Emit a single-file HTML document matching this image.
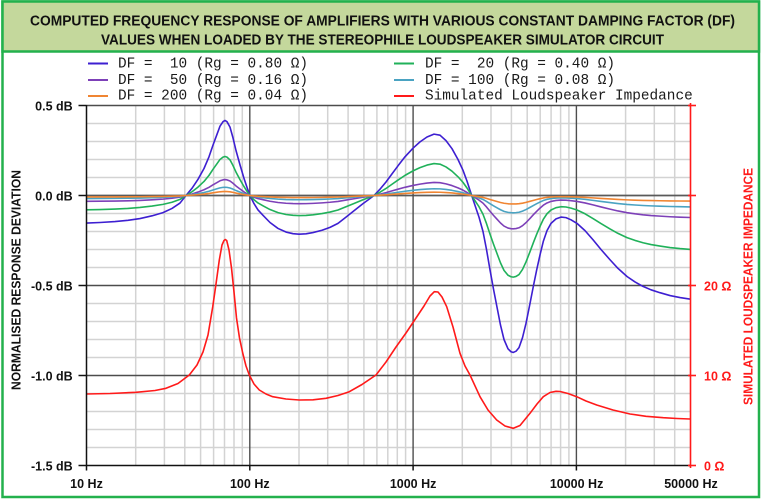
<!DOCTYPE html>
<html><head><meta charset="utf-8"><style>
html,body{margin:0;padding:0;background:#fff;}
svg{display:block;}
text{font-family:"Liberation Sans",sans-serif;}
.mono{font-family:"Liberation Mono",monospace;font-size:14.4px;fill:#1a1a1a;white-space:pre;}
.ax{font-weight:bold;font-size:12.5px;fill:#111;}
.rax{font-weight:bold;font-size:12.5px;fill:#ff1a1a;}
</style></head><body>
<svg width="765" height="502" viewBox="0 0 765 502" xmlns="http://www.w3.org/2000/svg">
<rect x="0" y="0" width="765" height="502" fill="#fff"/>
<rect x="2.5" y="1.5" width="756.5" height="495.5" fill="#fff" stroke="#23b14d" stroke-width="2.5"/>
<rect x="2.5" y="1.5" width="756.5" height="50" fill="#c4d89c" stroke="#23b14d" stroke-width="2.5"/>
<text x="382.5" y="25.5" text-anchor="middle" font-weight="bold" font-size="14.5" fill="#111" textLength="705" lengthAdjust="spacingAndGlyphs">COMPUTED FREQUENCY RESPONSE OF AMPLIFIERS WITH VARIOUS CONSTANT DAMPING FACTOR (DF)</text>
<text x="382.5" y="44.5" text-anchor="middle" font-weight="bold" font-size="14.5" fill="#111" textLength="563" lengthAdjust="spacingAndGlyphs">VALUES WHEN LOADED BY THE STEREOPHILE LOUDSPEAKER SIMULATOR CIRCUIT</text>

<!-- legend -->
<g stroke-width="2">
<line x1="88" y1="63.5" x2="108" y2="63.5" stroke="#3d1fd1"/>
<line x1="88" y1="80" x2="108" y2="80" stroke="#7d40b8"/>
<line x1="88" y1="96" x2="108" y2="96" stroke="#f08532"/>
<line x1="394" y1="63.5" x2="414" y2="63.5" stroke="#20b15a"/>
<line x1="394" y1="80" x2="414" y2="80" stroke="#4aa3c2"/>
<line x1="394" y1="96" x2="414" y2="96" stroke="#ff1a1a"/>
</g>
<text class="mono" x="118" y="67.7" xml:space="preserve">DF =  10 (Rg = 0.80 Ω)</text>
<text class="mono" x="118" y="84" xml:space="preserve">DF =  50 (Rg = 0.16 Ω)</text>
<text class="mono" x="118" y="99.7" xml:space="preserve">DF = 200 (Rg = 0.04 Ω)</text>
<text class="mono" x="425" y="67.7" xml:space="preserve">DF =  20 (Rg = 0.40 Ω)</text>
<text class="mono" x="425" y="84" xml:space="preserve">DF = 100 (Rg = 0.08 Ω)</text>
<text class="mono" x="425" y="99.7" xml:space="preserve">Simulated Loudspeaker Impedance</text>

<!-- minor grid -->
<g stroke="#d3d3d3" stroke-width="1.5">
<line x1="86.5" x2="690.5" y1="123.5" y2="123.5"/><line x1="86.5" x2="690.5" y1="141.5" y2="141.5"/>
<line x1="86.5" x2="690.5" y1="159.5" y2="159.5"/><line x1="86.5" x2="690.5" y1="177.5" y2="177.5"/>
<line x1="86.5" x2="690.5" y1="213.5" y2="213.5"/><line x1="86.5" x2="690.5" y1="231.5" y2="231.5"/>
<line x1="86.5" x2="690.5" y1="249.5" y2="249.5"/><line x1="86.5" x2="690.5" y1="267.5" y2="267.5"/>
<line x1="86.5" x2="690.5" y1="303.5" y2="303.5"/><line x1="86.5" x2="690.5" y1="321.5" y2="321.5"/>
<line x1="86.5" x2="690.5" y1="339.5" y2="339.5"/><line x1="86.5" x2="690.5" y1="357.5" y2="357.5"/>
<line x1="86.5" x2="690.5" y1="393.5" y2="393.5"/><line x1="86.5" x2="690.5" y1="411.5" y2="411.5"/>
<line x1="86.5" x2="690.5" y1="429.5" y2="429.5"/><line x1="86.5" x2="690.5" y1="447.5" y2="447.5"/>
<line y1="105.5" y2="465.5" x1="135.7" x2="135.7"/><line y1="105.5" y2="465.5" x1="164.4" x2="164.4"/>
<line y1="105.5" y2="465.5" x1="184.8" x2="184.8"/><line y1="105.5" y2="465.5" x1="200.6" x2="200.6"/>
<line y1="105.5" y2="465.5" x1="213.6" x2="213.6"/><line y1="105.5" y2="465.5" x1="224.5" x2="224.5"/>
<line y1="105.5" y2="465.5" x1="234" x2="234"/><line y1="105.5" y2="465.5" x1="242.3" x2="242.3"/>
<line y1="105.5" y2="465.5" x1="299" x2="299"/><line y1="105.5" y2="465.5" x1="327.7" x2="327.7"/>
<line y1="105.5" y2="465.5" x1="348.1" x2="348.1"/><line y1="105.5" y2="465.5" x1="363.9" x2="363.9"/>
<line y1="105.5" y2="465.5" x1="376.9" x2="376.9"/><line y1="105.5" y2="465.5" x1="387.8" x2="387.8"/>
<line y1="105.5" y2="465.5" x1="397.3" x2="397.3"/><line y1="105.5" y2="465.5" x1="405.6" x2="405.6"/>
<line y1="105.5" y2="465.5" x1="462.3" x2="462.3"/><line y1="105.5" y2="465.5" x1="491" x2="491"/>
<line y1="105.5" y2="465.5" x1="511.4" x2="511.4"/><line y1="105.5" y2="465.5" x1="527.2" x2="527.2"/>
<line y1="105.5" y2="465.5" x1="540.2" x2="540.2"/><line y1="105.5" y2="465.5" x1="551.1" x2="551.1"/>
<line y1="105.5" y2="465.5" x1="560.6" x2="560.6"/><line y1="105.5" y2="465.5" x1="568.9" x2="568.9"/>
<line y1="105.5" y2="465.5" x1="625.6" x2="625.6"/><line y1="105.5" y2="465.5" x1="654.3" x2="654.3"/>
<line y1="105.5" y2="465.5" x1="674.7" x2="674.7"/>
</g>
<!-- major grid -->
<g stroke="#4d4d4d" stroke-width="1.4">
<line x1="86.5" x2="690.5" y1="105.5" y2="105.5"/>
<line x1="86.5" x2="690.5" y1="195.5" y2="195.5" stroke="#5a5a5a" stroke-width="1.8"/>
<line x1="86.5" x2="690.5" y1="285.5" y2="285.5"/>
<line x1="86.5" x2="690.5" y1="375.5" y2="375.5"/>
<line y1="105.5" y2="465.5" x1="249.8" x2="249.8"/>
<line y1="105.5" y2="465.5" x1="413.1" x2="413.1"/>
<line y1="105.5" y2="465.5" x1="576.4" x2="576.4"/>
</g>

<!-- DF curves (x in px, y in dB) -->
<polyline fill="none" stroke="#3d1fd1" stroke-width="1.6" stroke-linejoin="round" vector-effect="non-scaling-stroke" transform="translate(0,195.5) scale(1,-180)" points="86.5,-0.153 100,-0.150 115,-0.145 128,-0.138 140,-0.128 152,-0.113 163,-0.095 172,-0.072 180,-0.042 186,0 192,0.04 198,0.09 204,0.15 209,0.215 213,0.28 217,0.34 220,0.385 223,0.41 225,0.417 227,0.41 230,0.38 233,0.32 236,0.25 240,0.17 244,0.095 247,0.045 250,0 254,-0.045 258,-0.08 263,-0.11 270,-0.15 278,-0.183 286,-0.203 293,-0.212 299,-0.215 306,-0.213 313,-0.206 322,-0.193 330,-0.177 338,-0.155 346,-0.12 354,-0.085 363,-0.045 368,-0.025 374,0 380,0.035 386,0.075 392,0.12 398,0.165 405,0.215 413,0.263 420,0.298 427,0.325 434,0.341 440,0.335 446,0.305 452,0.26 458,0.2 463,0.14 467,0.08 471.7,0 475,-0.055 479,-0.12 483,-0.2 486.5,-0.3 490,-0.413 493.5,-0.52 497,-0.62 500.5,-0.72 504,-0.8 508,-0.852 511,-0.868 513.3,-0.872 516,-0.865 519,-0.845 522.5,-0.79 526,-0.71 530,-0.6 533.5,-0.5 536.7,-0.413 540,-0.33 543.3,-0.255 547,-0.195 551,-0.155 556,-0.13 561,-0.12 566,-0.123 571,-0.135 577,-0.155 585,-0.195 593,-0.246 601,-0.3 610,-0.357 618,-0.405 627,-0.45 635,-0.48 643,-0.505 651,-0.524 660,-0.54 670,-0.556 680,-0.567 690.5,-0.576"/>
<polyline fill="none" stroke="#20b15a" stroke-width="1.6" stroke-linejoin="round" vector-effect="non-scaling-stroke" transform="translate(0,195.5) scale(1,-93.6)" points="86.5,-0.153 100,-0.150 115,-0.145 128,-0.138 140,-0.128 152,-0.113 163,-0.095 172,-0.072 180,-0.042 186,0 192,0.04 198,0.09 204,0.15 209,0.215 213,0.28 217,0.34 220,0.385 223,0.41 225,0.417 227,0.41 230,0.38 233,0.32 236,0.25 240,0.17 244,0.095 247,0.045 250,0 254,-0.045 258,-0.08 263,-0.11 270,-0.15 278,-0.183 286,-0.203 293,-0.212 299,-0.215 306,-0.213 313,-0.206 322,-0.193 330,-0.177 338,-0.155 346,-0.12 354,-0.085 363,-0.045 368,-0.025 374,0 380,0.035 386,0.075 392,0.12 398,0.165 405,0.215 413,0.263 420,0.298 427,0.325 434,0.341 440,0.335 446,0.305 452,0.26 458,0.2 463,0.14 467,0.08 471.7,0 475,-0.055 479,-0.12 483,-0.2 486.5,-0.3 490,-0.413 493.5,-0.52 497,-0.62 500.5,-0.72 504,-0.8 508,-0.852 511,-0.868 513.3,-0.872 516,-0.865 519,-0.845 522.5,-0.79 526,-0.71 530,-0.6 533.5,-0.5 536.7,-0.413 540,-0.33 543.3,-0.255 547,-0.195 551,-0.155 556,-0.13 561,-0.12 566,-0.123 571,-0.135 577,-0.155 585,-0.195 593,-0.246 601,-0.3 610,-0.357 618,-0.405 627,-0.45 635,-0.48 643,-0.505 651,-0.524 660,-0.54 670,-0.556 680,-0.567 690.5,-0.576"/>
<polyline fill="none" stroke="#7d40b8" stroke-width="1.6" stroke-linejoin="round" vector-effect="non-scaling-stroke" transform="translate(0,195.5) scale(1,-38.2)" points="86.5,-0.153 100,-0.150 115,-0.145 128,-0.138 140,-0.128 152,-0.113 163,-0.095 172,-0.072 180,-0.042 186,0 192,0.04 198,0.09 204,0.15 209,0.215 213,0.28 217,0.34 220,0.385 223,0.41 225,0.417 227,0.41 230,0.38 233,0.32 236,0.25 240,0.17 244,0.095 247,0.045 250,0 254,-0.045 258,-0.08 263,-0.11 270,-0.15 278,-0.183 286,-0.203 293,-0.212 299,-0.215 306,-0.213 313,-0.206 322,-0.193 330,-0.177 338,-0.155 346,-0.12 354,-0.085 363,-0.045 368,-0.025 374,0 380,0.035 386,0.075 392,0.12 398,0.165 405,0.215 413,0.263 420,0.298 427,0.325 434,0.341 440,0.335 446,0.305 452,0.26 458,0.2 463,0.14 467,0.08 471.7,0 475,-0.055 479,-0.12 483,-0.2 486.5,-0.3 490,-0.413 493.5,-0.52 497,-0.62 500.5,-0.72 504,-0.8 508,-0.852 511,-0.868 513.3,-0.872 516,-0.865 519,-0.845 522.5,-0.79 526,-0.71 530,-0.6 533.5,-0.5 536.7,-0.413 540,-0.33 543.3,-0.255 547,-0.195 551,-0.155 556,-0.13 561,-0.12 566,-0.123 571,-0.135 577,-0.155 585,-0.195 593,-0.246 601,-0.3 610,-0.357 618,-0.405 627,-0.45 635,-0.48 643,-0.505 651,-0.524 660,-0.54 670,-0.556 680,-0.567 690.5,-0.576"/>
<polyline fill="none" stroke="#4aa3c2" stroke-width="1.6" stroke-linejoin="round" vector-effect="non-scaling-stroke" transform="translate(0,195.5) scale(1,-19.8)" points="86.5,-0.153 100,-0.150 115,-0.145 128,-0.138 140,-0.128 152,-0.113 163,-0.095 172,-0.072 180,-0.042 186,0 192,0.04 198,0.09 204,0.15 209,0.215 213,0.28 217,0.34 220,0.385 223,0.41 225,0.417 227,0.41 230,0.38 233,0.32 236,0.25 240,0.17 244,0.095 247,0.045 250,0 254,-0.045 258,-0.08 263,-0.11 270,-0.15 278,-0.183 286,-0.203 293,-0.212 299,-0.215 306,-0.213 313,-0.206 322,-0.193 330,-0.177 338,-0.155 346,-0.12 354,-0.085 363,-0.045 368,-0.025 374,0 380,0.035 386,0.075 392,0.12 398,0.165 405,0.215 413,0.263 420,0.298 427,0.325 434,0.341 440,0.335 446,0.305 452,0.26 458,0.2 463,0.14 467,0.08 471.7,0 475,-0.055 479,-0.12 483,-0.2 486.5,-0.3 490,-0.413 493.5,-0.52 497,-0.62 500.5,-0.72 504,-0.8 508,-0.852 511,-0.868 513.3,-0.872 516,-0.865 519,-0.845 522.5,-0.79 526,-0.71 530,-0.6 533.5,-0.5 536.7,-0.413 540,-0.33 543.3,-0.255 547,-0.195 551,-0.155 556,-0.13 561,-0.12 566,-0.123 571,-0.135 577,-0.155 585,-0.195 593,-0.246 601,-0.3 610,-0.357 618,-0.405 627,-0.45 635,-0.48 643,-0.505 651,-0.524 660,-0.54 670,-0.556 680,-0.567 690.5,-0.576"/>
<polyline fill="none" stroke="#f08532" stroke-width="1.6" stroke-linejoin="round" vector-effect="non-scaling-stroke" transform="translate(0,195.5) scale(1,-9.7)" points="86.5,-0.153 100,-0.150 115,-0.145 128,-0.138 140,-0.128 152,-0.113 163,-0.095 172,-0.072 180,-0.042 186,0 192,0.04 198,0.09 204,0.15 209,0.215 213,0.28 217,0.34 220,0.385 223,0.41 225,0.417 227,0.41 230,0.38 233,0.32 236,0.25 240,0.17 244,0.095 247,0.045 250,0 254,-0.045 258,-0.08 263,-0.11 270,-0.15 278,-0.183 286,-0.203 293,-0.212 299,-0.215 306,-0.213 313,-0.206 322,-0.193 330,-0.177 338,-0.155 346,-0.12 354,-0.085 363,-0.045 368,-0.025 374,0 380,0.035 386,0.075 392,0.12 398,0.165 405,0.215 413,0.263 420,0.298 427,0.325 434,0.341 440,0.335 446,0.305 452,0.26 458,0.2 463,0.14 467,0.08 471.7,0 475,-0.055 479,-0.12 483,-0.2 486.5,-0.3 490,-0.413 493.5,-0.52 497,-0.62 500.5,-0.72 504,-0.8 508,-0.852 511,-0.868 513.3,-0.872 516,-0.865 519,-0.845 522.5,-0.79 526,-0.71 530,-0.6 533.5,-0.5 536.7,-0.413 540,-0.33 543.3,-0.255 547,-0.195 551,-0.155 556,-0.13 561,-0.12 566,-0.123 571,-0.135 577,-0.155 585,-0.195 593,-0.246 601,-0.3 610,-0.357 618,-0.405 627,-0.45 635,-0.48 643,-0.505 651,-0.524 660,-0.54 670,-0.556 680,-0.567 690.5,-0.576"/>

<!-- impedance -->
<polyline fill="none" stroke="#ff1a1a" stroke-width="1.6" stroke-linejoin="round" points="86.5,394 110,393.5 136,392.3 155,390.5 166,388.3 178,383.5 189.3,375 197,365 203,352 208,335 212.7,307 216,284 219.3,260 222,245 224,240.5 225.3,239.5 226.7,240.5 229,250 231.5,268 234,292 236.5,318 239.5,338 242.7,353 246,366 249.3,375 254,384 259.3,390 266,394 272.7,396.7 286,399 299.3,400 313,399.8 326,398.3 338,395.5 349.3,391.7 362,384.5 376,375 386,362 396,347 406,333 416,318 424,306 430,296 434.3,291.7 438,292 442,297 446.7,306.7 453,327 460,353.3 465,366 470,375 480,396.7 488,410 496.7,420 505,426 513.3,428.3 520,425.5 530,413.3 537,404 543.3,396.7 550,392.5 556,391.3 560,391.5 568,393.5 576.7,396.7 586,401 596.7,405 613,410 630,414 646,416.3 663.3,417.7 677,418.5 690,419"/>

<!-- axes -->
<g stroke="#111" stroke-width="1.5">
<line x1="86.5" y1="105" x2="86.5" y2="470.5"/>
<line x1="78.5" y1="465.5" x2="690.5" y2="465.5"/>
<line x1="78.5" y1="105.5" x2="86.5" y2="105.5"/>
<line x1="78.5" y1="195.5" x2="86.5" y2="195.5"/>
<line x1="78.5" y1="285.5" x2="86.5" y2="285.5"/>
<line x1="78.5" y1="375.5" x2="86.5" y2="375.5"/>
<line x1="249.8" y1="465.5" x2="249.8" y2="470.5"/>
<line x1="413.1" y1="465.5" x2="413.1" y2="470.5"/>
<line x1="576.4" y1="465.5" x2="576.4" y2="470.5"/>
</g>
<g stroke="#ff1a1a" stroke-width="1.6">
<line x1="690.5" y1="103" x2="690.5" y2="468"/>
<line x1="688" y1="105.5" x2="696" y2="105.5"/>
<line x1="688" y1="195.5" x2="696" y2="195.5"/>
<line x1="688" y1="285.5" x2="696" y2="285.5"/>
<line x1="688" y1="375.5" x2="696" y2="375.5"/>
<line x1="688" y1="465.5" x2="696" y2="465.5"/>
</g>

<!-- tick labels -->
<text class="ax" x="72.7" y="110.5" text-anchor="end">0.5 dB</text>
<text class="ax" x="72.7" y="200.5" text-anchor="end">0.0 dB</text>
<text class="ax" x="72.7" y="290.5" text-anchor="end">-0.5 dB</text>
<text class="ax" x="72.7" y="380.5" text-anchor="end">-1.0 dB</text>
<text class="ax" x="72.7" y="470.5" text-anchor="end">-1.5 dB</text>
<text class="ax" x="86.5" y="488" text-anchor="middle">10 Hz</text>
<text class="ax" x="249.8" y="488" text-anchor="middle">100 Hz</text>
<text class="ax" x="413.1" y="488" text-anchor="middle">1000 Hz</text>
<text class="ax" x="576.6" y="488" text-anchor="middle">10000 Hz</text>
<text class="ax" x="691" y="488" text-anchor="middle">50000 Hz</text>
<text class="rax" x="704" y="290.5">20 Ω</text>
<text class="rax" x="704" y="380.5">10 Ω</text>
<text class="rax" x="704" y="470.5">0 Ω</text>

<text transform="translate(20.5,280) rotate(-90)" text-anchor="middle" font-weight="bold" font-size="13" fill="#111" textLength="220" lengthAdjust="spacingAndGlyphs">NORMALISED RESPONSE DEVIATION</text>
<text transform="translate(752.5,286.5) rotate(-90)" text-anchor="middle" font-weight="bold" font-size="13" fill="#ff1a1a" textLength="237" lengthAdjust="spacingAndGlyphs">SIMULATED LOUDSPEAKER IMPEDANCE</text>
</svg>
</body></html>
